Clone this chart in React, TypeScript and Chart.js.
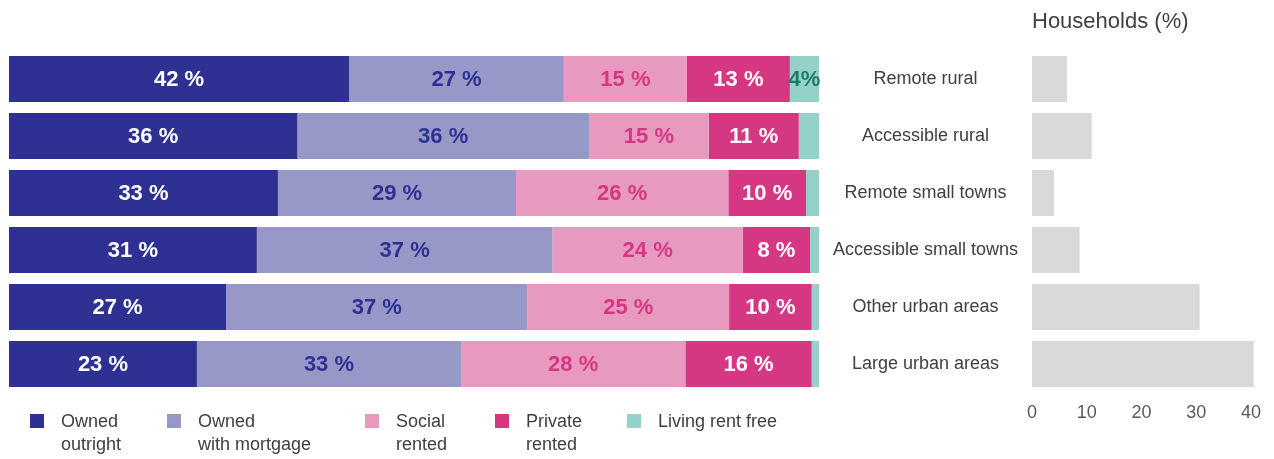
import React, { useEffect, useRef } from "react";
import { Chart, registerables } from "chart.js";

Chart.register(...registerables);

const areas = [
  "Remote rural",
  "Accessible rural",
  "Remote small towns",
  "Accessible small towns",
  "Other urban areas",
  "Large urban areas",
];

const ownedOutright = [42.0, 35.6, 33.2, 30.6, 26.8, 23.2];
const ownedMortgage = [26.5, 36.0, 29.4, 36.5, 37.2, 32.6];
const socialRented = [15.2, 14.8, 26.2, 23.5, 24.9, 27.7];
const privateRented = [12.7, 11.1, 9.6, 8.3, 10.2, 15.6];
const rentFree = [3.6, 2.5, 1.6, 1.1, 0.9, 1.0];

const households = [6.4, 10.9, 4.0, 8.7, 30.6, 40.5];

const tenureNames = [
  ["Owned", "outright"],
  ["Owned", "with mortgage"],
  ["Social", "rented"],
  ["Private", "rented"],
  ["Living rent free"],
];
const tenureColors = ["#2E3192", "#9898C8", "#E899C0", "#D63782", "#94D1C9"];
const labelColors = ["#FFFFFF", "#2E3192", "#D63782", "#FFFFFF", "#1E7B6B"];
const householdTicks = [0, 10, 20, 30, 40];

const FONT = '"Liberation Sans", Arial, Helvetica, sans-serif';

export default function App() {
  const leftRef = useRef<HTMLCanvasElement>(null);
  const rightRef = useRef<HTMLCanvasElement>(null);

  useEffect(() => {
    const series = [ownedOutright, ownedMortgage, socialRented, privateRented, rentFree];

    const labelPlugin = {
      id: "segLabels",
      afterDatasetsDraw(chart: any) {
        const ctx = chart.ctx;
        ctx.save();
        ctx.font = `bold 22px ${FONT}`;
        ctx.textAlign = "center";
        ctx.textBaseline = "middle";
        chart.data.datasets.forEach((ds: any, i: number) => {
          const meta = chart.getDatasetMeta(i);
          meta.data.forEach((bar: any, j: number) => {
            const v = ds.data[j];
            if (v < 3) return;
            const text = Math.round(v) + (i === 4 ? "%" : " %");
            ctx.fillStyle = labelColors[i];
            ctx.fillText(text, (bar.x + bar.base) / 2, bar.y + 1);
          });
        });
        ctx.restore();
      },
    };

    const legendPlugin = {
      id: "bottomLegend",
      afterDraw(chart: any) {
        const ctx = chart.ctx;
        const xs = [30, 167, 365, 495, 627];
        ctx.save();
        ctx.font = `18px ${FONT}`;
        ctx.textBaseline = "middle";
        ctx.textAlign = "left";
        tenureNames.forEach((lines, i) => {
          ctx.fillStyle = tenureColors[i];
          ctx.fillRect(xs[i], 414, 14, 14);
          ctx.fillStyle = "#404040";
          lines.forEach((ln, k) => {
            ctx.fillText(ln, xs[i] + 31, 422 + k * 23);
          });
        });
        ctx.restore();
      },
    };

    const left = new Chart(leftRef.current!, {
      type: "bar",
      data: {
        labels: areas,
        datasets: series.map((d, i) => ({
          label: tenureNames[i].join(" "),
          data: d,
          backgroundColor: tenureColors[i],
          borderWidth: 0,
          barPercentage: 0.807,
          categoryPercentage: 1,
        })),
      },
      options: {
        indexAxis: "y",
        animation: false,
        responsive: false,
        events: [],
        layout: { padding: { left: 9, right: 11, top: 50.5, bottom: 66.5 } },
        scales: {
          x: { stacked: true, min: 0, max: 100, display: false },
          y: { stacked: true, display: false },
        },
        plugins: { legend: { display: false }, tooltip: { enabled: false } },
      },
      plugins: [labelPlugin, legendPlugin],
    } as any);

    const titlePlugin = {
      id: "leftTitle",
      afterDraw(chart: any) {
        const ctx = chart.ctx;
        ctx.save();
        ctx.font = `22px ${FONT}`;
        ctx.fillStyle = "#404040";
        ctx.textAlign = "left";
        ctx.textBaseline = "middle";
        ctx.fillText("Households (%)", chart.chartArea.left, 22);
        ctx.restore();
      },
    };

    const right = new Chart(rightRef.current!, {
      type: "bar",
      data: {
        labels: areas,
        datasets: [
          {
            label: "Households (%)",
            data: households,
            backgroundColor: "#D9D9D9",
            borderWidth: 0,
            barPercentage: 0.807,
            categoryPercentage: 1,
          },
        ],
      },
      options: {
        indexAxis: "y",
        animation: false,
        responsive: false,
        events: [],
        layout: { padding: { left: 0, right: 12, top: 50.5, bottom: 26.5 } },
        scales: {
          x: {
            min: 0,
            max: 42,
            grid: { display: false, drawTicks: false },
            border: { display: false },
            ticks: {
              stepSize: 10,
              padding: 10,
              color: "#595959",
              font: { family: FONT, size: 18 },
            },
            afterBuildTicks: (s: any) => {
              s.ticks = householdTicks.map((v) => ({ value: v }));
            },
            afterFit: (s: any) => {
              s.height = 40;
            },
          },
          y: {
            grid: { display: false, drawTicks: false },
            border: { display: false },
            ticks: {
              crossAlign: "center",
              padding: 14,
              color: "#404040",
              autoSkip: false,
              font: { family: FONT, size: 18 },
            },
            afterFit: (s: any) => {
              s.width = 212;
            },
          },
        },
        plugins: { legend: { display: false }, tooltip: { enabled: false } },
      },
      plugins: [titlePlugin],
    } as any);

    return () => {
      left.destroy();
      right.destroy();
    };
  }, []);

  return (
    <div
      style={{
        position: "absolute",
        left: 0,
        top: 0,
        width: 1274,
        height: 459,
        background: "#FFFFFF",
        overflow: "hidden",
      }}
    >
      <canvas
        ref={rightRef}
        width={454}
        height={459}
        style={{ position: "absolute", left: 820, top: 0, width: 454, height: 459 }}
      />
      <canvas
        ref={leftRef}
        width={830}
        height={459}
        style={{ position: "absolute", left: 0, top: 0, width: 830, height: 459 }}
      />
    </div>
  );
}
